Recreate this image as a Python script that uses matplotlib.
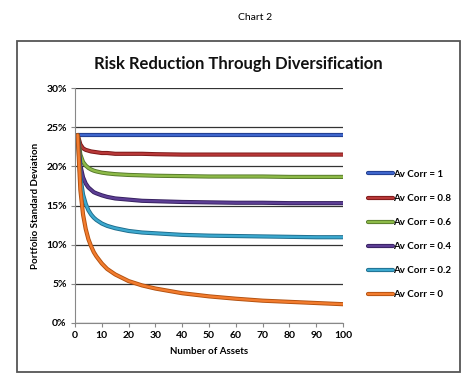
import matplotlib
matplotlib.use("Agg")
import matplotlib.pyplot as plt
import matplotlib.patheffects as pe
from matplotlib.patches import Rectangle
from matplotlib.ticker import FuncFormatter, MultipleLocator

plt.rcParams['font.family'] = ['Lato', 'DejaVu Sans']

# number of assets
n_assets = [1, 2, 3, 4, 5, 6, 7, 8, 10, 12, 15, 20, 25, 30, 40, 50, 60, 70, 80, 90, 100]

# portfolio standard deviation (%)
corr_1 = [24.0] * len(n_assets)
corr_08 = [24.0, 22.8, 22.3, 22.1, 22.0, 21.9, 21.85, 21.8, 21.7, 21.7, 21.6, 21.6,
           21.6, 21.55, 21.5, 21.5, 21.5, 21.5, 21.5, 21.5, 21.5]
corr_06 = [24.0, 21.5, 20.55, 20.1, 19.8, 19.6, 19.45, 19.35, 19.2, 19.1, 19.0, 18.9,
           18.85, 18.8, 18.75, 18.7, 18.7, 18.7, 18.65, 18.65, 18.65]
corr_04 = [24.0, 20.1, 18.6, 17.8, 17.3, 17.0, 16.7, 16.55, 16.3, 16.1, 15.9, 15.75,
           15.6, 15.55, 15.45, 15.4, 15.35, 15.35, 15.3, 15.3, 15.3]
corr_02 = [24.0, 18.6, 16.4, 15.2, 14.4, 13.85, 13.45, 13.15, 12.7, 12.4, 12.1, 11.75,
           11.55, 11.45, 11.25, 11.15, 11.1, 11.05, 11.0, 10.95, 10.95]
corr_0 = [24.0, 17.0, 13.85, 12.0, 10.7, 9.8, 9.05, 8.5, 7.6, 6.9, 6.2, 5.35,
          4.8, 4.4, 3.8, 3.4, 3.1, 2.85, 2.7, 2.55, 2.4]

series = [corr_1, corr_08, corr_06, corr_04, corr_02, corr_0]
labels = ['Av Corr = 1', 'Av Corr = 0.8', 'Av Corr = 0.6',
          'Av Corr = 0.4', 'Av Corr = 0.2', 'Av Corr = 0']
colors = ['#3F66CC', '#B83838', '#8DBA48', '#5C3E94', '#3CA8CE', '#F27C2E']
edges = ['#1E3A8A', '#7A1616', '#55782A', '#36205F', '#1D6C8C', '#B2500F']

fig = plt.figure(figsize=(4.74, 3.83), dpi=100)
fig.patches.append(Rectangle((17 / 474, 1 - 372 / 383), 443 / 474, 331 / 383,
                             transform=fig.transFigure, fill=False,
                             edgecolor='#555555', linewidth=1.3))
fig.text(255 / 474, 1 - 17 / 383, 'Chart 2', ha='center', va='center', fontsize=7.5)
fig.text(238 / 474, 1 - 64 / 383, 'Risk Reduction Through Diversification',
         ha='center', va='center', fontsize=12, fontweight='bold', color='#111111')

ax = fig.add_axes([75 / 474, 1 - 323 / 383, 268 / 474, 235 / 383])

for vals, lab, c, ec in zip(series, labels, colors, edges):
    ax.plot(n_assets, vals, color=c, linewidth=1.7, label=lab, solid_capstyle='round',
            path_effects=[pe.Stroke(linewidth=3.0, foreground=ec), pe.Normal()])

ax.set_xlim(0, 100)
ax.set_ylim(0, 30)
ax.xaxis.set_major_locator(MultipleLocator(10))
ax.yaxis.set_major_locator(MultipleLocator(5))
ax.yaxis.set_major_formatter(FuncFormatter(lambda v, p: f'{v:.0f}%'))
ax.grid(axis='y', color='#333333', linewidth=0.9)
ax.set_axisbelow(True)
for s in ['top', 'right']:
    ax.spines[s].set_visible(False)
for s in ['left', 'bottom']:
    ax.spines[s].set_color('#888888')
ax.tick_params(axis='both', direction='out', length=3, color='#888888',
               labelsize=7.5, pad=3)
for t in ax.get_xticklabels() + ax.get_yticklabels():
    t.set_fontweight('bold')
ax.set_xlabel('Number of Assets', fontsize=7, fontweight='bold', labelpad=5)
ax.set_ylabel('Portfolio Standard Deviation', fontsize=7, fontweight='bold', labelpad=4)

leg = fig.legend(loc='upper left', bbox_to_anchor=(364 / 474, 1 - 166 / 383),
                 frameon=False, fontsize=7, handlelength=2.6, handletextpad=0.0,
                 labelspacing=1.55, borderaxespad=0)
for t in leg.get_texts():
    t.set_fontweight('bold')

fig.savefig('out.png', dpi=100)
